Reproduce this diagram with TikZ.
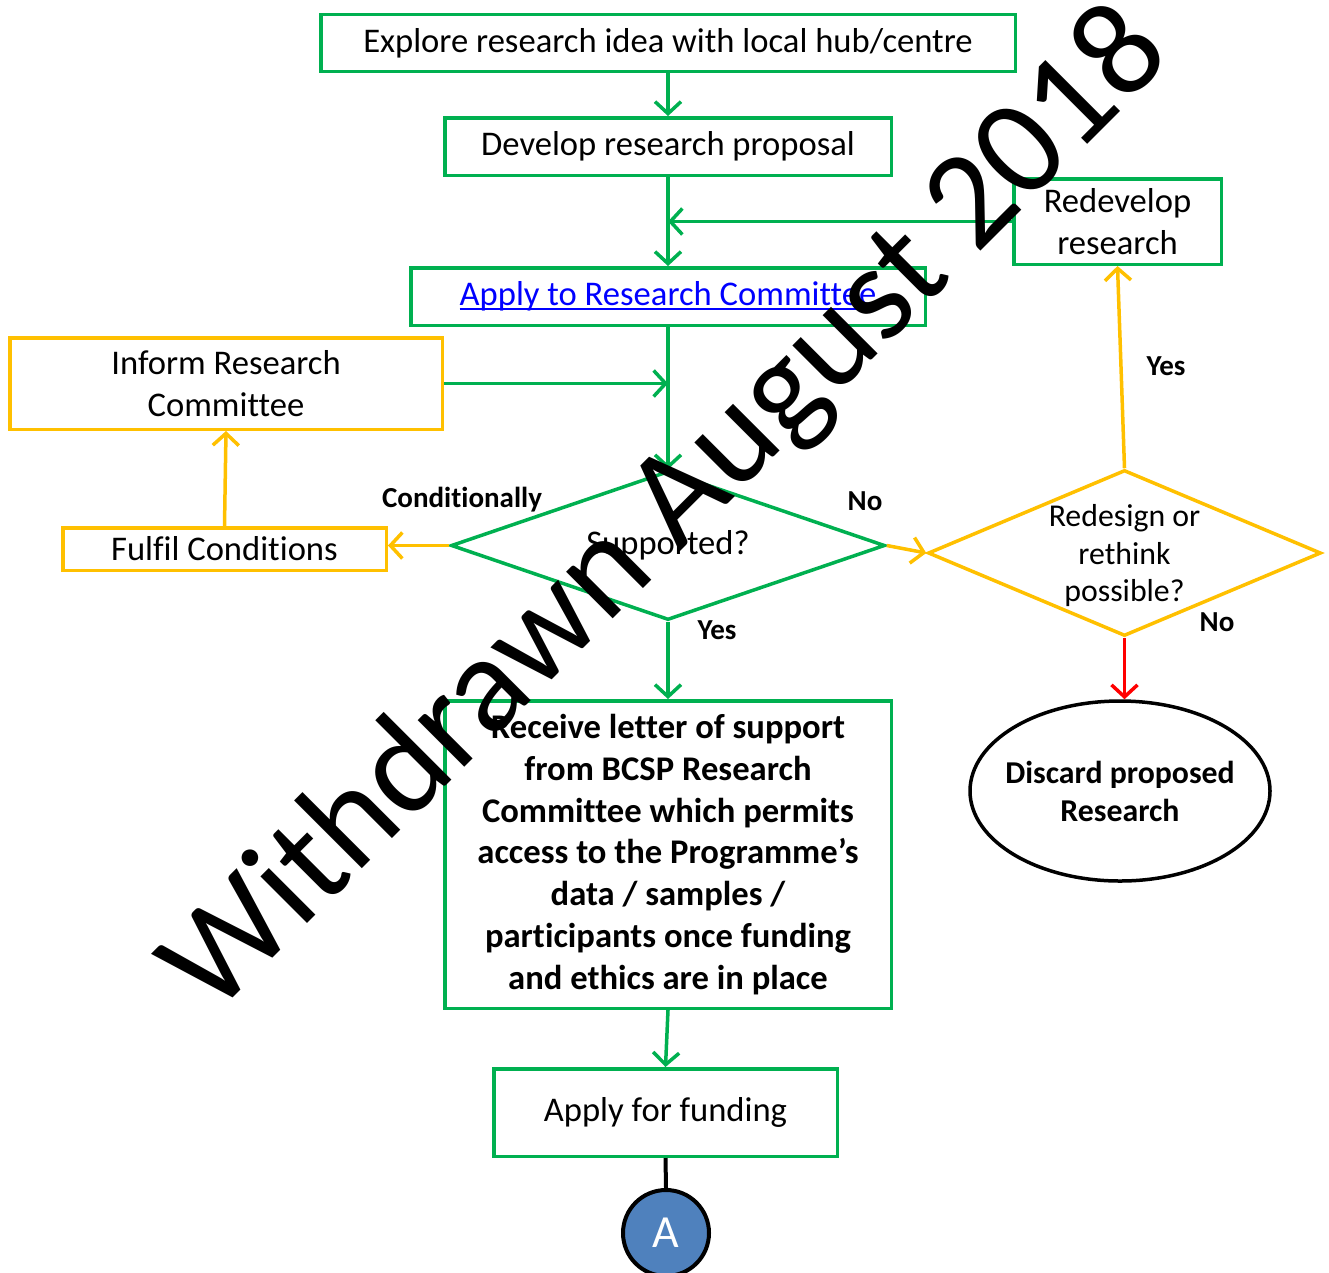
\documentclass[tikz,border=0pt]{standalone}
\usepackage{fontspec}
\setmainfont{Carlito}[Ligatures={NoCommon}]
\newcommand\myul[1]{\setbox0\hbox{#1}\rlap{\rule[-4.5pt]{\wd0}{2pt}}\box0}
\usetikzlibrary{shapes.geometric,arrows.meta}
\definecolor{mygreen}{HTML}{00B050}
\definecolor{myyellow}{HTML}{FFC000}
\definecolor{myred}{HTML}{FF0000}
\definecolor{myblue}{HTML}{4F81BD}
\definecolor{linkblue}{HTML}{0000FF}
\begin{document}
\begin{tikzpicture}[x=1pt,y=-1pt,
  bigfont/.style={font=\fontsize{34.6}{41.7}\selectfont},
  gbox/.style={draw=mygreen, line width=3.5pt, inner sep=0pt, align=center, bigfont},
  ybox/.style={draw=myyellow, line width=3.5pt, inner sep=0pt, align=center, bigfont},
  tip/.style={-{Straight Barb[length=12pt,width=26pt]}},
  garr/.style={draw=mygreen, line width=3.5pt, tip},
  yarr/.style={draw=myyellow, line width=3.5pt, tip},
  rarr/.style={draw=myred, line width=3.5pt, tip},
  lbl/.style={inner sep=0pt, font=\fontsize{29}{35}\selectfont\bfseries}]
\useasboundingbox (0,0) rectangle (1329,1272);

\node[gbox, minimum width=694.5, minimum height=57] (explore) at (668,43) {Explore research idea with local hub/centre};
\node[gbox, minimum width=446.5, minimum height=57.5] (develop) at (668,146.5) {Develop research proposal};
\node[gbox, minimum width=207.5, minimum height=85.5] (redevelop) at (1117.5,221.5) {Redevelop\\research};
\node[gbox, minimum width=514.5, minimum height=57.5] (apply) at (668,296.5) {\textcolor{linkblue}{\myul{Apply to Research Committee}}};
\node[ybox, minimum width=432.5, minimum height=91.5] (inform) at (226,383.5) {Inform Research\\Committee};
\node[ybox, minimum width=323.5, minimum height=42.5] (fulfil) at (224.5,549) {Fulfil Conditions};
\node[diamond, draw=mygreen, line width=3.5pt, inner sep=0pt, shape aspect=2.9,
      minimum width=434, minimum height=149, bigfont] (supported) at (668,545.5) {Supported?};
\node[diamond, draw=myyellow, line width=3.5pt, inner sep=0pt,
      minimum width=393, minimum height=166,
      label={[inner sep=0pt, align=center, font=\fontsize{31.8}{37.5}\selectfont, yshift=-3pt]center:Redesign or\\rethink\\possible?}] (redesign) at (1124.5,553) {};
\node[gbox, minimum width=446.5, minimum height=307.5, font=\fontsize{34.6}{41.7}\selectfont\bfseries] (receive) at (668,854.5)
  {Receive letter of support\\from BCSP Research\\Committee which permits\\access to the Programme’s\\data / samples /\\participants once funding\\and ethics are in place};
\node[gbox, minimum width=343.5, minimum height=87.5] (funding) at (665.5,1112.5) {Apply for funding};
\node[ellipse, draw=black, line width=3.5pt, inner sep=0pt, minimum width=300, minimum height=180,
      label={[inner sep=0pt, align=center, font=\fontsize{31.8}{38}\selectfont\bfseries]center:Discard proposed\\Research}] (discard) at (1120,791) {};
\node[circle, draw=black, fill=myblue, line width=4pt, minimum size=86, inner sep=0pt,
      text=white, font=\fontsize{46}{46}\selectfont] (A) at (666,1233) {A};

\coordinate (j1) at (668,221.5);
\coordinate (j2) at (668,383.5);
\draw[garr] (explore) -- (develop);
\draw[garr] (develop) -- (apply);
\draw[garr] (redevelop.west) -- (j1);
\draw[garr] (apply) -- (supported.north);
\draw[garr] (inform.east) -- (j2);
\draw[yarr] (supported.west) -- (supported.west -| fulfil.east);
\draw[yarr] (fulfil.north) -- (inform.south);
\draw[yarr] (supported.east) -- (redesign.west);
\draw[yarr] (redesign.north) -- (redevelop.south);
\draw[rarr] (redesign.south) -- (redesign.south |- discard.north);
\draw[garr] (supported.south) -- (receive.north);
\draw[garr] (receive.south) -- (funding.north);
\draw[line width=4pt] (funding.south) -- (A.north);

\node[lbl] (lcond) at (462,500) {Conditionally};
\node[lbl] (lno1) at (865,501) {No};
\node[lbl] (lyes1) at (717,630) {Yes};
\node[lbl] (lyes2) at (1166,366) {Yes};
\node[lbl] (lno2) at (1217,622) {No};

\node[inner sep=0pt, rotate=45, anchor=base, font=\fontsize{138}{138}\selectfont] (wm) at (694,537.5) {Withdrawn August 2018};
\end{tikzpicture}
\end{document}
